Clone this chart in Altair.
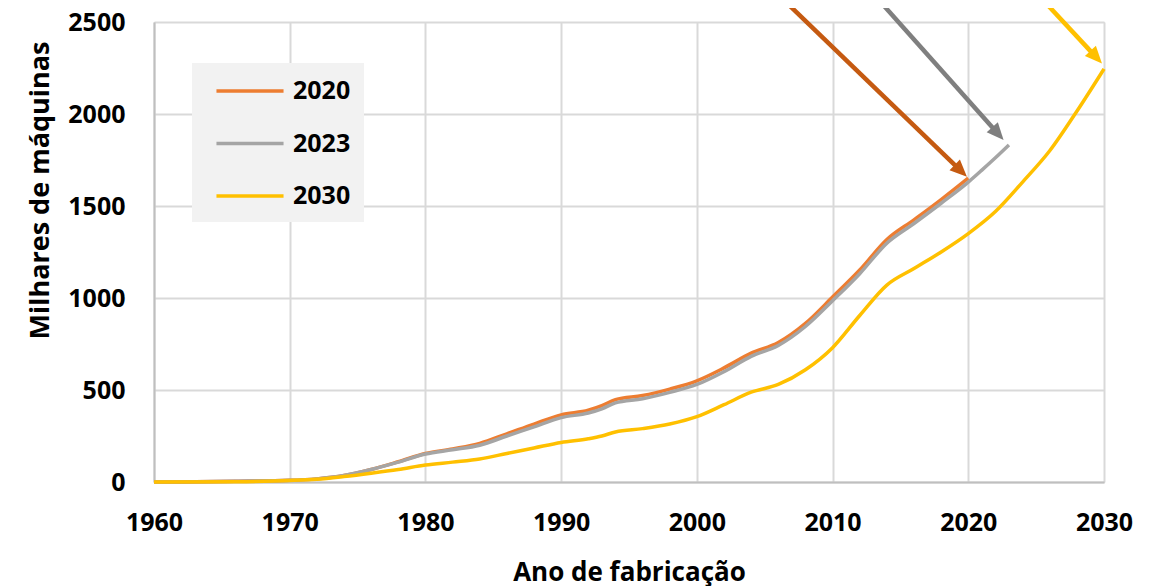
import math
import altair as alt
import pandas as pd

# ---------------- data ----------------
series_names = ["2020", "2023", "2030"]
line_colors = ["#ED7D31", "#A5A5A5", "#FFC000"]
arrow_colors = ["#C55A11", "#7F7F7F", "#FFC000"]

years_2020 = [1960, 1963, 1966, 1970, 1972, 1974, 1976, 1978, 1980, 1982, 1984, 1986,
              1988, 1990, 1992, 1993, 1994, 1996, 1998, 2000, 2002, 2004, 2006,
              2008, 2010, 2012, 2014, 2016, 2018, 2020]
vals_2020 = [0, 1, 4, 9, 17, 35, 68, 110, 155, 180, 210, 262,
             315, 365, 390, 415, 448, 470, 505, 550, 620, 700, 758,
             862, 1005, 1152, 1318, 1425, 1535, 1652]

years_2023 = [1960, 1963, 1966, 1970, 1972, 1974, 1976, 1978, 1980, 1982, 1984, 1986,
              1988, 1990, 1992, 1993, 1994, 1996, 1998, 2000, 2002, 2004, 2006,
              2008, 2010, 2012, 2014, 2016, 2018, 2020, 2021, 2022, 2023]
vals_2023 = [0, 1, 4, 9, 17, 35, 68, 108, 152, 175, 200, 250,
             300, 350, 375, 398, 430, 452, 487, 530, 600, 683, 742,
             845, 985, 1132, 1298, 1405, 1515, 1630, 1695, 1762, 1832]

years_2030 = [1960, 1966, 1970, 1972, 1974, 1976, 1978, 1980, 1982, 1984, 1986, 1988,
              1990, 1992, 1993, 1994, 1996, 1998, 2000, 2002, 2004, 2006, 2008,
              2010, 2012, 2014, 2016, 2018, 2020, 2022, 2024, 2026, 2028, 2030]
vals_2030 = [0, 2, 8, 15, 30, 48, 68, 92, 108, 125, 155, 185,
             215, 235, 250, 272, 290, 315, 355, 420, 488, 530, 610,
             730, 905, 1070, 1160, 1250, 1350, 1470, 1630, 1800, 2015, 2245]

# annotation arrows (start / tip in data units)
arrow_x0 = [2006.4, 2013.4, 2025.5]
arrow_y0 = [2620, 2620, 2620]
arrow_x1 = [2019.9, 2022.6, 2029.85]
arrow_y1 = [1659, 1859, 2275]

x_ticks = [1960, 1970, 1980, 1990, 2000, 2010, 2020, 2030]
y_ticks = [0, 500, 1000, 1500, 2000, 2500]

# ---------------- layout ----------------
W, H = 950, 460
XMIN, XMAX = 1960, 2030
YMIN, YMAX = 0, 2500
FONT = "Open Sans"
FS = 25

rows = []
for name, ys, vs in [("2020", years_2020, vals_2020),
                     ("2023", years_2023, vals_2023),
                     ("2030", years_2030, vals_2030)]:
    for yr, v in zip(ys, vs):
        rows.append({"ano": yr, "valor": v, "serie": name})
df = pd.DataFrame(rows)

xscale = alt.Scale(domain=[XMIN, XMAX], nice=False, zero=False)
yscale = alt.Scale(domain=[YMIN, YMAX], nice=False)

xaxis = alt.Axis(values=x_ticks, format="d", ticks=False, tickSize=0,
                 labelFont=FONT, labelFontSize=FS, labelFontWeight="bold", labelColor="black",
                 labelBaseline="alphabetic", labelPadding=48, labelFlush=False,
                 gridColor="#D9D9D9", gridWidth=2, domainColor="#BFBFBF", domainWidth=2,
                 title="Ano de fabricação", titleFont=FONT, titleFontSize=26,
                 titleFontWeight="bold", titleColor="black",
                 titleBaseline="alphabetic", titleY=98)
yaxis = alt.Axis(values=y_ticks, format="d", ticks=False, tickSize=0,
                 labelFont=FONT, labelFontSize=FS, labelFontWeight="bold", labelColor="black",
                 labelPadding=29, labelFlush=False,
                 gridColor="#D9D9D9", gridWidth=2, domainColor="#BFBFBF", domainWidth=2,
                 title="Milhares de máquinas", titleFont=FONT, titleFontSize=27,
                 titleFontWeight="bold", titleColor="black",
                 titleAngle=-90, titleBaseline="middle", titleAlign="center",
                 titleX=-114, titleY=168)

legend = alt.Legend(title=None, orient="none", legendX=38, legendY=41,
                    fillColor="#F2F2F2", padding=13,
                    symbolType="M-2.58,0L2.58,0", symbolSize=676, symbolStrokeWidth=3.5,
                    symbolOffset=30, labelOffset=28,
                    rowPadding=24.5,
                    labelFont=FONT, labelFontSize=FS, labelFontWeight="bold",
                    labelColor="black", labelLimit=300)

lines = alt.Chart(df).mark_line(interpolate="monotone", strokeWidth=3.5).encode(
    x=alt.X("ano:Q", scale=xscale, axis=xaxis),
    y=alt.Y("valor:Q", scale=yscale, axis=yaxis),
    color=alt.Color("serie:N", scale=alt.Scale(domain=series_names, range=line_colors),
                    legend=legend),
    order=alt.Order("ano:Q"),
)

layers = [lines]
px_per_x = W / (XMAX - XMIN)
px_per_y = H / (YMAX - YMIN)
for x0, y0, x1, y1, col in zip(arrow_x0, arrow_y0, arrow_x1, arrow_y1, arrow_colors):
    dxp = (x1 - x0) * px_per_x
    dyp = -(y1 - y0) * px_per_y  # screen, down positive
    L = math.hypot(dxp, dyp)
    back = 12.0
    xe = x1 - (dxp / L) * back / px_per_x
    ye = y1 + (dyp / L) * back / px_per_y
    ang = math.degrees(math.atan2(dxp, -dyp)) % 360
    seg = pd.DataFrame({"x": [x0], "y": [y0], "x2": [xe], "y2": [ye]})
    tip = pd.DataFrame({"x": [x1], "y": [y1], "a": [ang]})
    layers.append(
        alt.Chart(seg).mark_rule(color=col, strokeWidth=4.5).encode(
            x=alt.X("x:Q", scale=xscale), y=alt.Y("y:Q", scale=yscale),
            x2="x2:Q", y2="y2:Q")
    )
    layers.append(
        alt.Chart(tip).mark_point(shape="M0,0L0.75,1.7L-0.75,1.7Z", filled=True,
                                  fill=col, stroke=None, opacity=1, size=400).encode(
            x=alt.X("x:Q", scale=xscale), y=alt.Y("y:Q", scale=yscale),
            angle=alt.Angle("a:Q", scale=None))
    )

chart = alt.layer(*layers).properties(
    width=W, height=H,
    autosize=alt.AutoSizeParams(type="none"),
    padding={"left": 146, "top": 14, "right": 40, "bottom": 112},
).configure_view(stroke=None).configure(background="white")

chart.save("out.html", embed_options={"renderer": "svg", "actions": False})
